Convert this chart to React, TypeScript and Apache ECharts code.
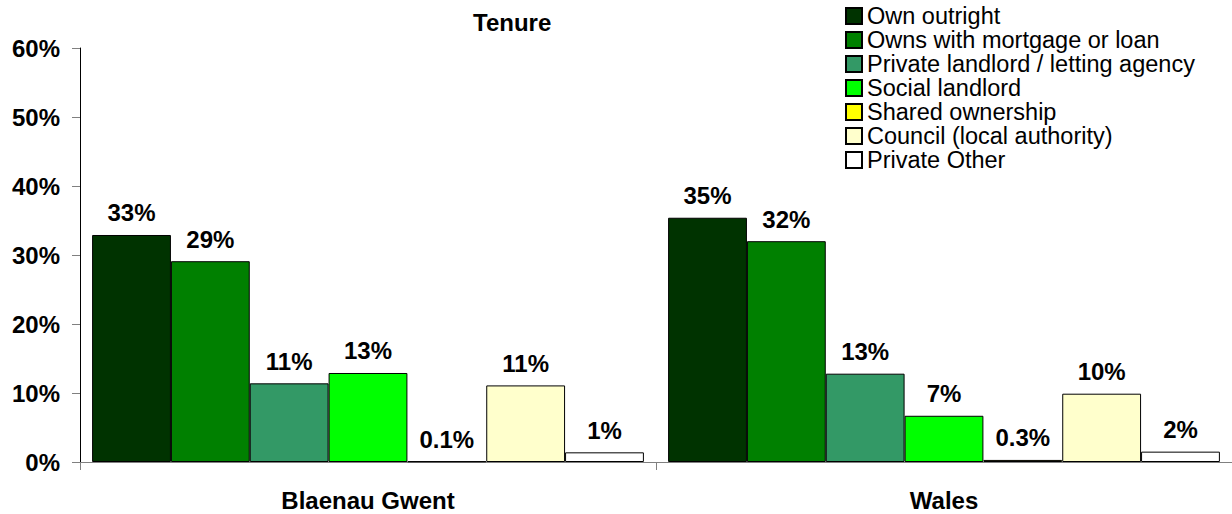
import React, { useEffect, useRef } from "react";
import * as echarts from "echarts";

const categories = ["Blaenau Gwent", "Wales"];
const seriesNames = [
  "Own outright",
  "Owns with mortgage or loan",
  "Private landlord / letting agency",
  "Social landlord",
  "Shared ownership",
  "Council (local authority)",
  "Private Other",
];
const seriesColors = ["#003300", "#008000", "#339966", "#00FF00", "#FFFF00", "#FFFFCC", "#FFFFFF"];
// values per series: [Blaenau Gwent, Wales]
const ownOutright = [32.9, 35.4];
const ownsMortgage = [29.1, 32.0];
const privateLandlord = [11.4, 12.8];
const socialLandlord = [12.9, 6.7];
const sharedOwnership = [0.1, 0.3];
const council = [11.1, 9.9];
const privateOther = [1.4, 1.5];
const seriesValues = [ownOutright, ownsMortgage, privateLandlord, socialLandlord, sharedOwnership, council, privateOther];
const yTicks = { min: 0, max: 60, interval: 10 };

const FONT = "'Liberation Sans', Arial, sans-serif";

export default function App() {
  const ref = useRef<HTMLDivElement>(null);
  useEffect(() => {
    if (!ref.current) return;
    const chart = echarts.init(ref.current, undefined, { renderer: "svg" });
    chart.setOption({
      animation: false,
      backgroundColor: "#ffffff",
      textStyle: { fontFamily: FONT },
      title: {
        text: "Tenure",
        left: 473,
        top: 10,
        padding: 0,
        textStyle: { fontFamily: FONT, fontSize: 24, fontWeight: "bold", color: "#000", lineHeight: 24 },
      },
      legend: {
        orient: "vertical",
        left: 845,
        top: 4,
        padding: 0,
        itemGap: 0,
        itemWidth: 16,
        itemHeight: 16,
        icon: "rect",
        textStyle: { fontFamily: FONT, fontSize: 23.5, color: "#000", lineHeight: 24 },
        data: seriesNames,
      },
      grid: { left: 80, top: 48, width: 1156, height: 414, containLabel: false },
      xAxis: {
        type: "category",
        data: categories,
        axisLine: { lineStyle: { color: "#808080", width: 1 } },
        axisTick: { show: true, alignWithLabel: false, length: 8, lineStyle: { color: "#808080" } },
        axisLabel: { margin: 26, fontFamily: FONT, fontSize: 24, fontWeight: "bold", color: "#000" },
      },
      yAxis: {
        type: "value",
        min: yTicks.min,
        max: yTicks.max,
        interval: yTicks.interval,
        axisLine: { show: true, lineStyle: { color: "#000", width: 1 } },
        axisTick: { show: true, length: 8, lineStyle: { color: "#808080" } },
        splitLine: { show: false },
        axisLabel: { margin: 20, formatter: "{value}%", fontFamily: FONT, fontSize: 24, fontWeight: "bold", color: "#000" },
      },
      series: seriesNames.map((name, i) => ({
        name,
        type: "bar",
        data: seriesValues[i],
        barGap: "0%",
        barCategoryGap: "4.2%",
        itemStyle: { color: seriesColors[i], borderColor: "#000", borderWidth: 1 },
        label: {
          show: true,
          position: "top",
          distance: 10,
          fontFamily: FONT,
          fontSize: 24,
          fontWeight: "bold",
          color: "#000",
          formatter: (p: any) => (p.value < 1 ? p.value.toFixed(1) : Math.round(p.value)) + "%",
        },
      })),
    });
    return () => chart.dispose();
  }, []);
  return <div ref={ref} style={{ position: "absolute", left: 0, top: 0, width: 1232, height: 514 }} />;
}
